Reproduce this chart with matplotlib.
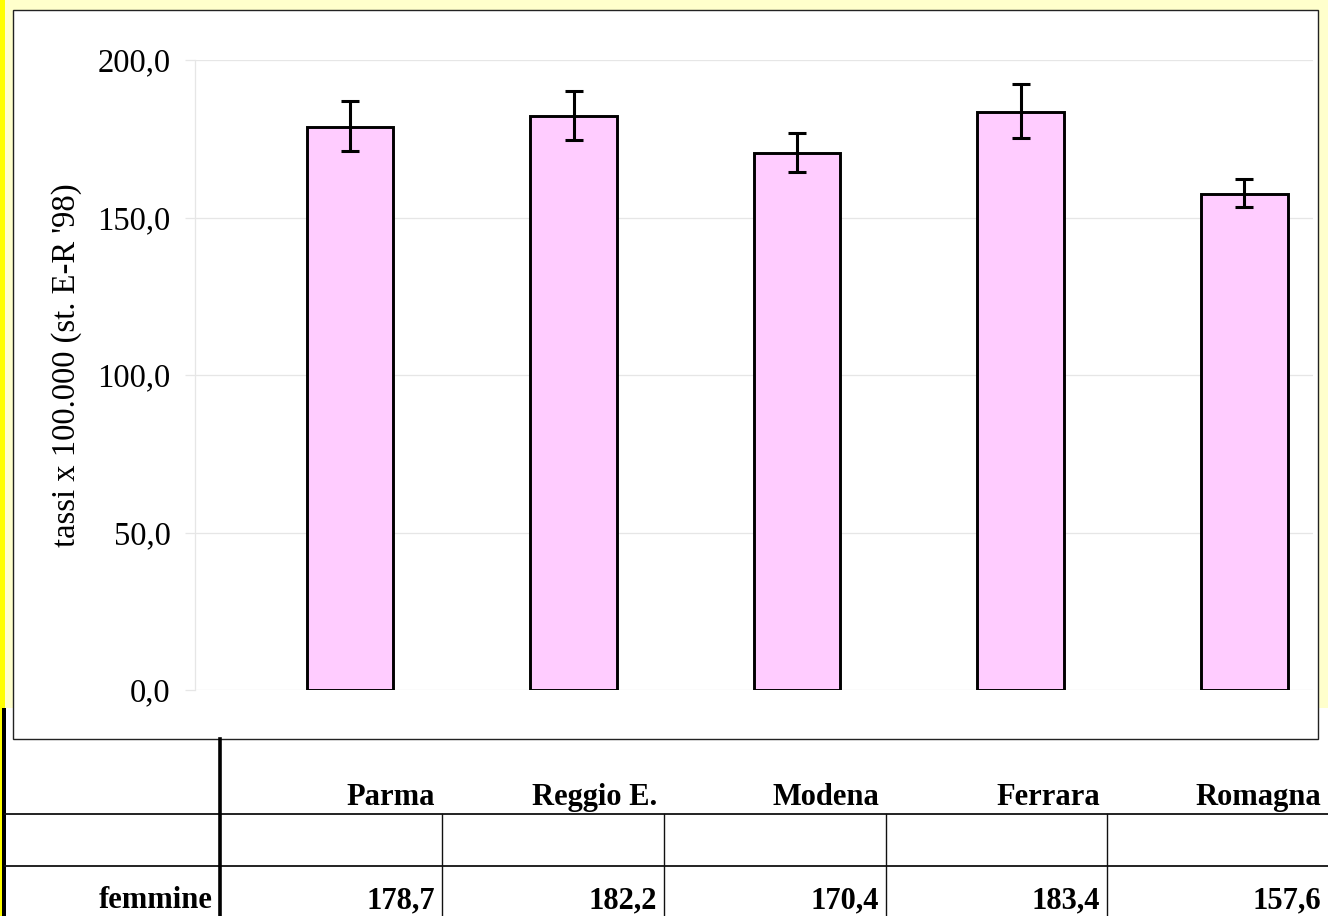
import matplotlib
matplotlib.use("Agg")
import matplotlib.pyplot as plt
from matplotlib.patches import Rectangle
from matplotlib.lines import Line2D
import numpy as np

# ---- data ----
regions = ["Parma", "Reggio E.", "Modena", "Ferrara", "Romagna"]
femmine = [178.7, 182.2, 170.4, 183.4, 157.6]
ci_lower = [171.0, 174.6, 164.4, 175.2, 153.3]
ci_upper = [187.1, 190.3, 176.9, 192.3, 162.2]
yticks = [0, 50, 100, 150, 200]
row_label = "femmine"
ylabel = "tassi x 100.000 (st. E-R '98)"

W, H = 1328, 916
fig = plt.figure(figsize=(W / 100, H / 100), dpi=100)
fig.patch.set_facecolor("white")

def fx(x):
    return x / W

def fy(y):
    return 1 - y / H

serif = ["Liberation Serif", "DejaVu Serif"]

# background
fig.add_artist(Rectangle((0, fy(708)), 1, 708 / H, transform=fig.transFigure,
                         facecolor="#FFFFCC", edgecolor="none", zorder=0))
fig.add_artist(Rectangle((0, 0), fx(5), 1, transform=fig.transFigure,
                         facecolor="#FFFF00", edgecolor="none", zorder=0.1))
fig.add_artist(Rectangle((fx(2), 0), fx(4), fy(708), transform=fig.transFigure,
                         facecolor="black", edgecolor="none", zorder=0.2))
# chart box
fig.add_artist(Rectangle((fx(13), fy(739)), fx(1318 - 13), (739 - 10) / H,
                         transform=fig.transFigure, facecolor="white",
                         edgecolor="#222222", linewidth=1.0, zorder=0.3))

# axes
ax = fig.add_axes([fx(195), fy(690), fx(1313 - 195), (690 - 60) / H])
ax.set_zorder(2)
ax.set_facecolor("none")
x = np.arange(len(regions))
vals = np.array(femmine)
yerr = np.array([vals - np.array(ci_lower), np.array(ci_upper) - vals])
ax.bar(x, vals, width=0.387, color="#FFCCFF", edgecolor="black",
       linewidth=2.1, zorder=2)
ax.errorbar(x, vals, yerr=yerr, fmt="none", ecolor="black", elinewidth=2.2,
            capsize=6.6, capthick=2.2, zorder=3)
ax.set_xlim(-0.693, 4.307)
ax.set_ylim(0, 200)
ax.set_yticks(yticks)
ax.set_yticklabels([f"{v:.1f}".replace(".", ",") for v in yticks],
                   fontfamily=serif, fontsize=23.5)
ax.set_xticks([])
ax.yaxis.grid(True, color="#E6E6E6", linewidth=0.9, zorder=0)
ax.set_axisbelow(True)
ax.tick_params(axis="y", length=7.2, width=0.9, color="#E6E6E6", pad=10.5)
for s in ["top", "right", "bottom"]:
    ax.spines[s].set_visible(False)
ax.spines["left"].set_color("#E6E6E6")
ax.spines["left"].set_linewidth(0.9)

t = fig.text(fx(67), fy(365), ylabel, rotation=90, ha="center", va="center",
             fontfamily=serif, fontsize=23.5)
t.set_zorder(3)

# table lines
def hline(y, x0, x1, lw, color="#111111"):
    fig.add_artist(Line2D([fx(x0), fx(x1)], [fy(y), fy(y)],
                          transform=fig.transFigure, color=color, linewidth=lw,
                          zorder=3))

def vline(x0, y0, y1, lw, color="#111111"):
    fig.add_artist(Line2D([fx(x0), fx(x0)], [fy(y0), fy(y1)],
                          transform=fig.transFigure, color=color, linewidth=lw,
                          zorder=3))

hline(814, 5, W, 1.3)
hline(866, 5, W, 1.3)
vline(220, 739, H, 2.6, "black")
col_edges = [441.5, 663.5, 885.5, 1107, 1328]
for xe in col_edges[:-1]:
    vline(xe, 814, H, 1.0)

for name, v, xe in zip(regions, femmine, col_edges):
    fig.text(fx(xe - 6.5), fy(805), name, ha="right", va="baseline",
             fontfamily=serif, fontsize=22, fontweight="bold")
    fig.text(fx(xe - 6.5), fy(908), f"{v:.1f}".replace(".", ","), ha="right",
             va="baseline", fontfamily=serif, fontsize=22, fontweight="bold")
fig.text(fx(213), fy(908), row_label, ha="right", va="baseline",
         fontfamily=serif, fontsize=22, fontweight="bold")

fig.savefig("out.png", dpi=100)
